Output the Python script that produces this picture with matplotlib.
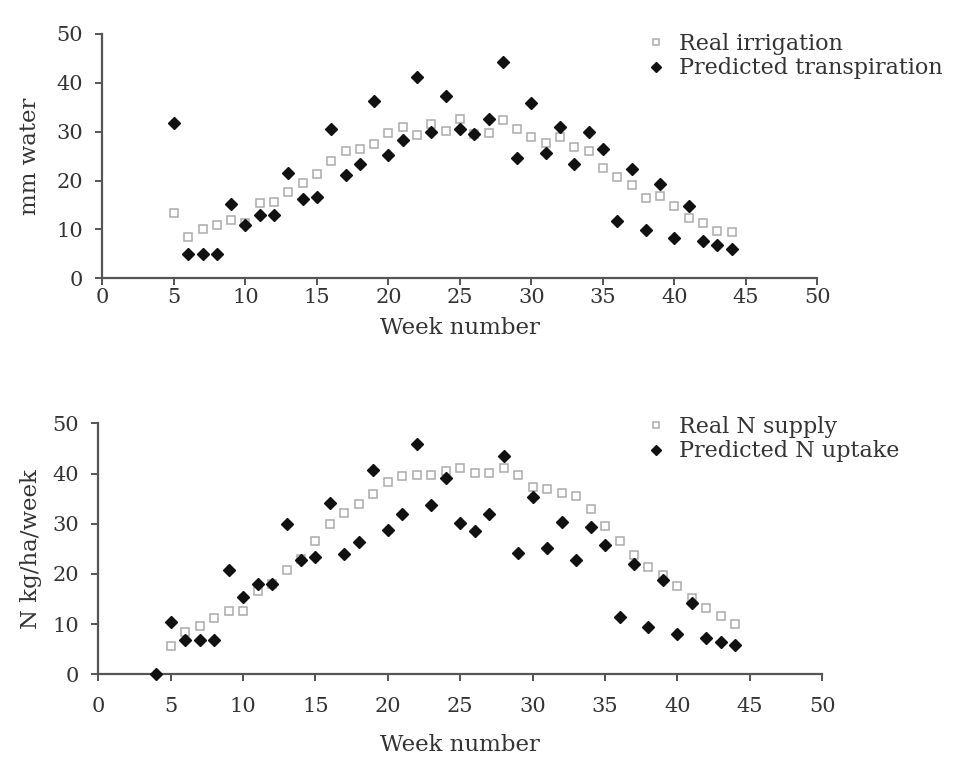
import matplotlib
matplotlib.use("Agg")
import matplotlib.pyplot as plt
import numpy as np

plt.rcParams['font.family'] = ['DejaVu Serif', 'Liberation Serif']

# ---- data ----
weeks_top = list(range(5, 45))
real_irrigation = [13.3, 8.5, 10.0, 10.9, 11.9, 11.3, 15.4, 15.7, 17.6, 19.4,
                   21.4, 24.0, 26.1, 26.4, 27.4, 29.7, 30.9, 29.3, 31.6, 30.2,
                   32.6, 29.6, 29.7, 32.3, 30.6, 29.0, 27.6, 29.0, 26.8, 26.1,
                   22.6, 20.8, 19.1, 16.5, 16.9, 14.7, 12.3, 11.3, 9.7, 9.4]
pred_transpiration = [31.7, 4.9, 4.9, 4.9, 15.2, 11.0, 12.9, 12.9, 21.5, 16.2,
                      16.7, 30.6, 21.1, 23.4, 36.3, 25.3, 28.3, 41.2, 29.9, 37.4,
                      30.6, 29.5, 32.5, 44.2, 24.6, 35.9, 25.7, 31.0, 23.4, 29.9,
                      26.5, 11.7, 22.4, 9.9, 19.3, 8.3, 14.8, 7.6, 6.8, 6.0]

weeks_supply = list(range(5, 45))
real_n_supply = [5.7, 8.5, 9.7, 11.2, 12.6, 12.6, 16.5, 18.0, 20.8, 23.0,
                 26.6, 29.9, 32.2, 33.9, 35.9, 38.4, 39.5, 39.8, 39.8, 40.6,
                 41.0, 40.2, 40.2, 41.0, 39.8, 37.4, 36.9, 36.2, 35.6, 32.9,
                 29.6, 26.6, 23.8, 21.3, 19.7, 17.5, 15.3, 13.3, 11.6, 10.0]
weeks_uptake = list(range(4, 45))
pred_n_uptake = [0.0, 10.5, 6.8, 6.8, 6.8, 20.8, 15.4, 17.9, 17.9, 30.0, 22.7,
                 23.4, 34.1, 23.9, 26.4, 40.8, 28.7, 31.9, 45.9, 33.7, 39.2,
                 30.1, 28.6, 31.9, 43.4, 24.2, 35.3, 25.2, 30.4, 22.7, 29.3,
                 25.8, 11.4, 21.9, 9.5, 18.7, 8.0, 14.3, 7.3, 6.5, 5.8]

x_ticks = [0, 5, 10, 15, 20, 25, 30, 35, 40, 45, 50]
y_ticks = [0, 10, 20, 30, 40, 50]

TEXT = '#333333'
SPINE = '#555555'
SQ = '#ababab'

fig = plt.figure(figsize=(9.55, 7.57), dpi=100)
ax1 = fig.add_axes([0.1073, 0.6324, 0.7487, 0.3227])
ax2 = fig.add_axes([0.1029, 0.1092, 0.7581, 0.3316])


def style(ax, ylabel, xpad, xlabelpad, ylabelpad):
    ax.set_xlim(0, 50)
    ax.set_ylim(0, 50)
    ax.set_xticks(x_ticks)
    ax.set_yticks(y_ticks)
    for s in ['top', 'right']:
        ax.spines[s].set_visible(False)
    for s in ['left', 'bottom']:
        ax.spines[s].set_color(SPINE)
        ax.spines[s].set_linewidth(1.6)
    ax.tick_params(axis='both', direction='out', length=5, width=1.4,
                   color=SPINE, labelsize=15, labelcolor=TEXT)
    ax.tick_params(axis='y', pad=9)
    ax.tick_params(axis='x', pad=xpad)
    ax.set_xlabel('Week number', fontsize=16.5, color=TEXT, labelpad=xlabelpad)
    ax.set_ylabel(ylabel, fontsize=16.5, color=TEXT, labelpad=ylabelpad)


style(ax1, 'mm water', 2, 7, 11)
style(ax2, 'N kg/ha/week', 11, 13, 7)

ax1.plot(weeks_top, real_irrigation, linestyle='none', marker='s', markersize=6,
         markerfacecolor='white', markeredgecolor=SQ, markeredgewidth=1.1,
         label='Real irrigation', clip_on=False, zorder=3)
ax1.plot(weeks_top, pred_transpiration, linestyle='none', marker='D', markersize=6.2,
         color='#111111', label='Predicted transpiration', clip_on=False, zorder=4)

ax2.plot(weeks_supply, real_n_supply, linestyle='none', marker='s', markersize=6,
         markerfacecolor='white', markeredgecolor=SQ, markeredgewidth=1.1,
         label='Real N supply', clip_on=False, zorder=3)
ax2.plot(weeks_uptake, pred_n_uptake, linestyle='none', marker='D', markersize=6.2,
         color='#111111', label='Predicted N uptake', clip_on=False, zorder=4)

for ax, anchor in [(ax1, (638 / 955, 1 - 22 / 757)), (ax2, (638 / 955, 1 - 405 / 757))]:
    leg = ax.legend(loc='upper left', bbox_to_anchor=anchor,
                    bbox_transform=fig.transFigure, frameon=False,
                    fontsize=16, handlelength=0.6, handletextpad=0.75,
                    borderpad=0, labelspacing=0.1, markerscale=0.8)
    for t in leg.get_texts():
        t.set_color(TEXT)

fig.savefig('out.png', dpi=100, facecolor='white')
